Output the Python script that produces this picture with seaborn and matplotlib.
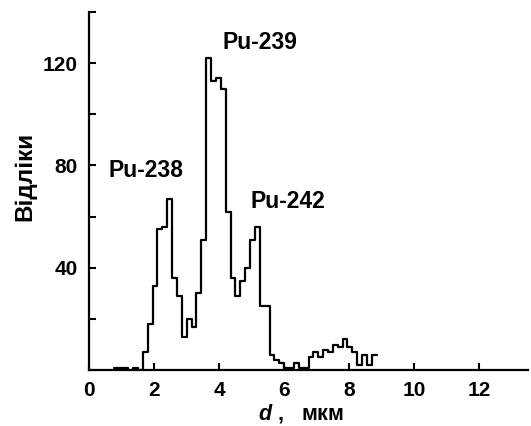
import numpy as np
import pandas as pd
import matplotlib
matplotlib.use('Agg')
import matplotlib.pyplot as plt
import seaborn as sns
from matplotlib.ticker import MultipleLocator

# bins of 0.15 um, left edge of the first bin
bin_width = 0.15
first_edge = 0.75
counts = [1, 1, 1, 0, 1, 0,                  # 0.75 .. 1.50
          7, 18, 33, 55, 56, 67, 36, 29, 13,  # 1.65 .. 2.85
          20, 17, 30, 51, 122, 113, 114, 110, # 3.00 .. 4.05
          62, 36, 29, 35, 40, 51, 56, 25, 25, # 4.20 .. 5.40
          6, 4, 3, 1, 1, 3, 1, 1,             # 5.55 .. 6.60
          5, 7, 5, 8, 7, 10, 9, 12, 9,        # 6.75 .. 7.95
          7, 2, 6, 2, 6]                      # 8.10 .. 8.70

labels = ['Pu-238', 'Pu-239', 'Pu-242']
label_x = [1.76, 5.25, 6.13]
label_y = [78, 128, 66]

edges = first_edge + bin_width * np.arange(len(counts) + 1)
centers = (edges[:-1] + edges[1:]) / 2
df = pd.DataFrame({'d': centers, 'n': counts})

sns.set_style('ticks')
plt.rcParams['font.family'] = ['Liberation Sans', 'DejaVu Sans']
plt.rcParams['font.weight'] = 'bold'
plt.rcParams['mathtext.fontset'] = 'custom'
plt.rcParams['mathtext.it'] = 'Liberation Sans:italic'
plt.rcParams['mathtext.rm'] = 'Liberation Sans:bold'
for k in ['text.color', 'axes.labelcolor', 'xtick.color', 'ytick.color',
          'axes.edgecolor']:
    plt.rcParams[k] = 'black'

fig = plt.figure(figsize=(5.31, 4.26), dpi=100)
ax = fig.add_axes([0.168, 0.131, 0.826, 0.841])

sns.histplot(data=df, x='d', weights='n', bins=list(edges), element='step',
             fill=False, color='black', linewidth=1.6, ax=ax)

for t, x, y in zip(labels, label_x, label_y):
    ax.text(x, y, t, ha='center', va='center', fontsize=16.5, fontweight='bold')

ax.set_xlim(0, 13.5)
ax.set_ylim(0, 140)
ax.set_xticks(np.arange(0, 13, 2))
ax.set_yticks([40, 80, 120])
ax.yaxis.set_minor_locator(MultipleLocator(20))
ax.tick_params(axis='both', which='both', direction='in', width=1.5,
               labelsize=15, pad=8)
ax.tick_params(axis='both', which='major', length=5)
ax.tick_params(axis='y', which='minor', length=5)
for lab in ax.get_xticklabels() + ax.get_yticklabels():
    lab.set_fontweight('bold')

sns.despine(ax=ax)
for s in ['left', 'bottom']:
    ax.spines[s].set_linewidth(1.6)

ax.set_xlabel(r'$d$ ,   мкм', fontsize=15.5, fontweight='bold')
ax.xaxis.set_label_coords(0.484, -0.088)
ax.set_ylabel('Відліки', fontsize=17.5, fontweight='bold')
ax.yaxis.set_label_coords(-0.12, 0.54)

fig.savefig('out.png', dpi=100)
